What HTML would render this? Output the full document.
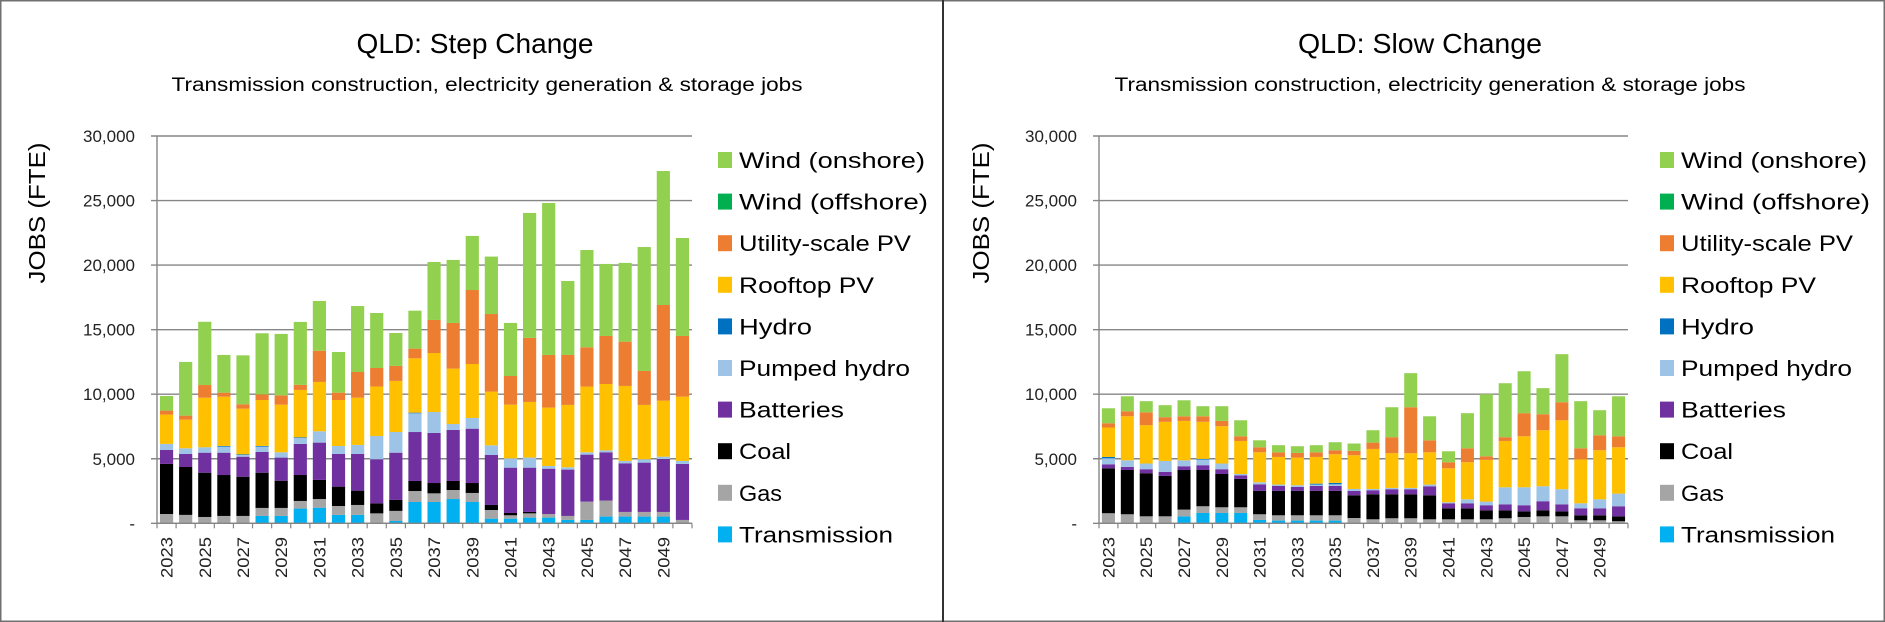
<!DOCTYPE html>
<html><head><meta charset="utf-8"><style>
html,body{margin:0;padding:0;background:#fff;}
svg{display:block;font-family:"Liberation Sans",sans-serif;}
</style></head><body>
<svg id="root" width="1885" height="622" viewBox="0 0 1885 622" xmlns="http://www.w3.org/2000/svg">
<rect x="0.75" y="0.75" width="1883.5" height="620.5" fill="#fff" stroke="#707070" stroke-width="1.5"/>
<line x1="943" y1="0" x2="943" y2="622" stroke="#333" stroke-width="2"/>
</svg>
<script>
const years = [2023,2024,2025,2026,2027,2028,2029,2030,2031,2032,2033,2034,2035,2036,2037,2038,2039,2040,2041,2042,2043,2044,2045,2046,2047,2048,2049,2050];
const yTicks = [0,5000,10000,15000,20000,25000,30000];
const yTickLabels = ["-","5,000","10,000","15,000","20,000","25,000","30,000"];
const seriesNames = ["Transmission","Gas","Coal","Batteries","Pumped hydro","Hydro","Rooftop PV","Utility-scale PV","Wind (offshore)","Wind (onshore)"];
const seriesColors = ["#00B0F0","#A5A5A5","#000000","#7030A0","#9DC3E6","#0070C0","#FFC000","#ED7D31","#00B050","#92D050"];

// Step Change
const trans1 = [0,0,0,0,0,570,570,1140,1210,650,650,0,180,1650,1650,1880,1650,360,360,440,440,260,260,520,520,520,520,0];
const gas1 = [720,650,490,570,570,620,620,590,670,690,770,770,780,850,670,700,700,670,260,330,280,310,1420,1240,360,360,360,260];
const coal1 = [3880,3710,3430,3170,3040,2730,2110,2010,1480,1500,1110,780,850,780,800,700,770,390,180,110,0,0,0,0,0,0,0,0];
const batt1 = [1080,1010,1550,1730,1550,1610,1790,2410,2890,2530,2840,3410,3660,3790,3880,3950,4210,3870,3510,3430,3510,3590,3640,3740,3770,3820,4100,4340];
const ph1 = [470,440,420,470,130,410,410,460,880,620,700,1800,1600,1450,1620,460,830,750,720,780,210,180,180,150,180,260,180,230];
const hydro1 = [0,0,0,50,50,50,0,50,0,0,0,0,0,50,0,0,0,0,0,0,0,0,0,0,0,0,0,0];
const roof1 = [2270,2220,3840,3820,3540,3560,3690,3670,3820,3560,3660,3830,3960,4210,4570,4290,4180,4160,4160,4310,4520,4830,5090,5140,5810,4210,4340,4980];
const pv1 = [310,310,980,310,340,440,720,390,2420,570,1990,1440,1160,750,2560,3540,5730,6010,2220,4960,4080,3870,3040,3720,3430,2630,7410,4700];
const off1 = [0,0,0,0,0,0,0,0,0,0,0,0,0,0,0,0,0,0,0,0,0,0,0,0,0,0,0,0];
const wind1 = [1130,4160,4900,2920,3790,4730,4760,4880,3850,3150,5110,4260,2550,2940,4490,4880,4190,4450,4110,9680,11770,5730,7540,5580,6100,9600,10380,7590];

// Slow Change
const trans2 = [0,0,0,0,540,800,800,800,260,210,210,210,210,0,0,0,0,0,0,0,0,0,0,0,0,0,0,0];
const gas2 = [780,700,540,540,520,520,440,440,440,410,410,410,410,410,310,390,390,310,310,310,310,390,490,540,540,230,230,160];
const coal2 = [3480,3430,3340,3130,3070,2810,2580,2200,1810,1890,1890,1890,1890,1760,1940,1860,1860,1860,850,850,700,620,440,470,390,390,390,380];
const batt2 = [310,240,310,310,290,370,370,280,510,380,310,380,380,340,310,390,390,700,390,390,390,460,470,700,540,540,540,780];
const ph2 = [470,510,440,850,460,440,440,100,160,110,130,110,130,150,100,100,100,130,80,310,280,1320,1390,1160,1170,390,700,980];
const hydro2 = [100,0,0,0,0,50,0,0,0,0,0,70,110,0,0,0,0,0,0,0,0,0,0,0,0,0,0,0];
const roof2 = [2280,3410,2970,3030,3050,2870,2890,2560,2320,2140,2140,2070,2220,2610,3100,2690,2690,2500,2630,2870,3230,3590,3950,4340,5340,3410,3800,3590];
const pv2 = [330,390,1000,360,360,430,410,360,390,360,360,360,310,340,490,1240,3560,930,470,1080,280,290,1790,1240,1400,850,1160,850];
const off2 = [0,0,0,0,0,0,0,0,0,0,0,0,0,0,0,0,0,0,0,0,0,0,0,0,0,0,0,0];
const wind2 = [1160,1160,860,930,1240,780,1140,1240,540,550,520,550,620,570,960,2320,2640,1860,850,2720,4810,4180,3250,2020,3720,3650,1940,3100];

const NS = "http://www.w3.org/2000/svg";
const root = document.getElementById("root");
function mk(tag, attrs, parent){
  const e = document.createElementNS(NS, tag);
  for (const k in attrs) e.setAttribute(k, attrs[k]);
  (parent||root).appendChild(e);
  return e;
}

function drawChart(cfg){
  const g = mk("g", {});
  
  
  const yBase = 523.3, yTop = 136, yMax = 30000;
  const y = v => yBase - (v / yMax) * (yBase - yTop);
  const band = (cfg.x1 - cfg.x0) / years.length;
  const bx = i => cfg.x0 + i * band;
  const bw = band * 0.69;

  // title
  const t = mk("text", {x: cfg.titleX, y: 53, "text-anchor": "middle", "font-size": 28, fill: "#000", textLength: cfg.titleW, lengthAdjust: "spacingAndGlyphs"}, g);
  t.textContent = cfg.title;
  
  
  const st = mk("text", {x: cfg.subX, y: 91, "text-anchor": "middle", "font-size": 19, fill: "#000", textLength: 631, lengthAdjust: "spacingAndGlyphs"}, g);
  st.textContent = "Transmission construction, electricity generation & storage jobs";
  
  

  // y title
  const yt = mk("text", {x: 0, y: 0, transform: `translate(${cfg.yTitleX},213) rotate(-90)`, "text-anchor": "middle", "font-size": 23, fill: "#000", textLength: 141, lengthAdjust: "spacingAndGlyphs"}, g);
  yt.textContent = "JOBS (FTE)";
  
  

  // gridlines and y ticks
  yTicks.forEach((v, i) => {
    const gl = mk("line", {x1: cfg.x0 - 6, x2: cfg.x1, y1: y(v), y2: y(v), stroke: "#868686", "stroke-width": 1.4}, g);
    
    
    const tl = mk("text", {x: cfg.x0 - 22, y: y(v) + 6, "text-anchor": "end", "font-size": 17, fill: "#222"}, g);
    tl.textContent = yTickLabels[i];
    
    
  });
  const ax = mk("line", {x1: cfg.x0, x2: cfg.x0, y1: yTop, y2: yBase, stroke: "#868686", "stroke-width": 1.4}, g);
  
  

  // bars
  years.forEach((yr, i) => {
    let acc = 0;
    cfg.series.forEach((arr, s) => {
      const v = arr[i];
      if (v <= 0) { return; }
      const r = mk("rect", {x: bx(i) + (band - bw) / 2, y: y(acc + v), width: bw, height: y(acc) - y(acc + v), fill: seriesColors[s]}, g);
      
      
      acc += v;
    });
  });

  // x axis and ticks
  const xa = mk("line", {x1: cfg.x0, x2: cfg.x1, y1: yBase, y2: yBase, stroke: "#868686", "stroke-width": 1.4}, g);
  
  
  for (let i = 0; i <= years.length; i++) {
    const tk = mk("line", {x1: bx(i), x2: bx(i), y1: yBase, y2: yBase + 5, stroke: "#868686", "stroke-width": 1.2}, g);
    
    
  }
  years.forEach((yr, i) => {
    if (i % 2 !== 0) return;
    const cx = bx(i) + band / 2 + 6;
    const xl = mk("text", {x: 0, y: 0, transform: `translate(${cx},537) rotate(-90)`, "text-anchor": "end", "font-size": 17, fill: "#222", textLength: 41, lengthAdjust: "spacingAndGlyphs"}, g);
    xl.textContent = String(yr);
    
    
  });

  // legend
  const legOrder = [9,8,7,6,5,4,3,2,1,0];
  const legW = [186,189,172,135,73,171,105,52,43,154];
  legOrder.forEach((s, k) => {
    const cy = 160 + k * 41.6;
    const lg = mk("g", {}, g);
    
    
    mk("rect", {x: cfg.legX, y: cy - 8, width: 14, height: 16, fill: seriesColors[s]}, lg);
    const lt = mk("text", {x: cfg.legX + 21, y: cy + 8, "font-size": 22, fill: "#000", textLength: legW[k], lengthAdjust: "spacingAndGlyphs"}, lg);
    lt.textContent = seriesNames[s];
  });
}

drawChart({key: "step-change", title: "QLD: Step Change", titleX: 475, titleW: 237, subX: 487, yTitleX: 45, x0: 157, x1: 692, legX: 718,
  series: [trans1, gas1, coal1, batt1, ph1, hydro1, roof1, pv1, off1, wind1]});
drawChart({key: "slow-change", title: "QLD: Slow Change", titleX: 1420, titleW: 244, subX: 1430, yTitleX: 989, x0: 1099, x1: 1628, legX: 1660,
  series: [trans2, gas2, coal2, batt2, ph2, hydro2, roof2, pv2, off2, wind2]});
</script>
</body></html>
